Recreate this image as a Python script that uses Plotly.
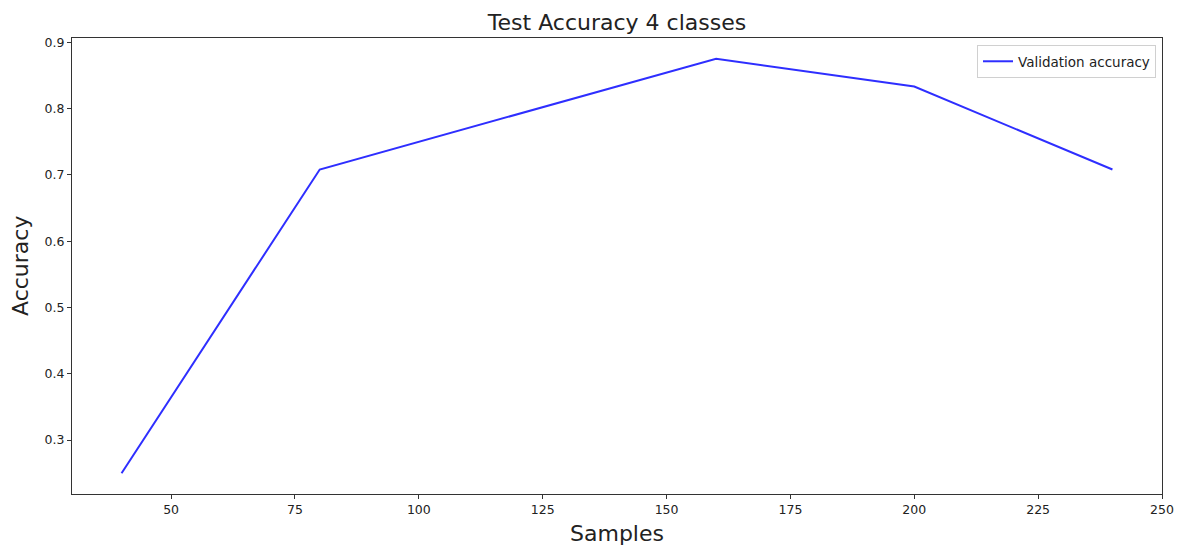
import plotly.graph_objects as go

samples = [40, 80, 160, 200, 240]
accuracy = [0.25, 0.708, 0.875, 0.833, 0.708]
x_ticks = [50, 75, 100, 125, 150, 175, 200, 225, 250]
y_ticks = [0.3, 0.4, 0.5, 0.6, 0.7, 0.8, 0.9]

W, H = 1180, 550
L, R, T, B = 72, 18, 38, 56

fig = go.Figure()
fig.add_trace(go.Scatter(
    x=samples, y=accuracy, mode="lines", name="Validation accuracy",
    line=dict(color="rgba(0,0,255,0.82)", width=2),
))

axis_common = dict(
    showline=True, linecolor="#333333", linewidth=1, mirror=True,
    ticks="outside", ticklen=4, tickcolor="#333333", tickwidth=1,
    showgrid=False, zeroline=False, automargin=False,
    tickfont=dict(family="DejaVu Sans", size=12.5, color="#222222"),
)

label_font = dict(family="DejaVu Sans", size=22, color="#222222")

fig.update_layout(
    width=W, height=H,
    margin=dict(l=L, r=R, t=T, b=B, pad=0, autoexpand=False),
    plot_bgcolor="white", paper_bgcolor="white",
    title=dict(text="Test Accuracy 4 classes", x=(L + (W - R)) / 2 / W, xanchor="center",
               y=1 - 22 / H, yanchor="middle",
               font=dict(family="DejaVu Sans", size=22, color="#222222")),
    xaxis=dict(range=[30, 250], tickvals=x_ticks, ticktext=[str(v) for v in x_ticks],
               **axis_common),
    yaxis=dict(range=[0.21875, 0.90625], tickvals=y_ticks, ticktext=[f"{v:.1f}" for v in y_ticks],
               **axis_common),
    legend=dict(x=1 - 6 / (W - L - R), xanchor="right", y=1 - 7 / (H - T - B), yanchor="top",
                bordercolor="#d0d0d0", borderwidth=1, bgcolor="rgba(255,255,255,0.8)",
                font=dict(family="DejaVu Sans", size=13.5, color="#222222"),
                itemwidth=30),
    showlegend=True,
    annotations=[
        dict(text="Samples", xref="paper", yref="paper", x=0.5, y=-(533 - (H - B)) / (H - T - B),
             xanchor="center", yanchor="middle", showarrow=False, font=label_font),
        dict(text="Accuracy", xref="paper", yref="paper", x=-(L - 20) / (W - L - R), y=0.5,
             xanchor="center", yanchor="middle", showarrow=False, textangle=-90, font=label_font),
    ],
)

fig.write_html("out.html")
